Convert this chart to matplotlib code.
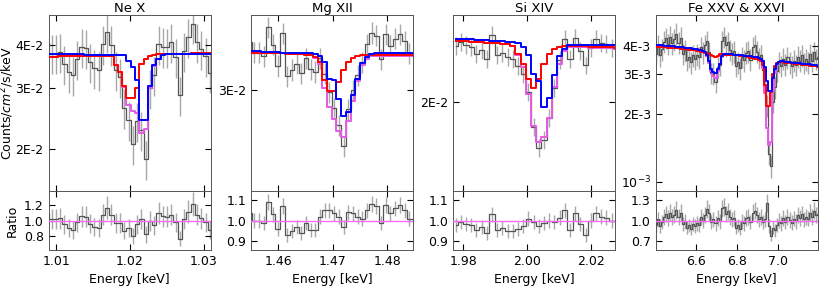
import numpy as np
import matplotlib
matplotlib.use("Agg")
import matplotlib.pyplot as plt
from matplotlib.ticker import FixedLocator, FixedFormatter, NullLocator

plt.rcParams['font.family'] = ['DejaVu Sans']
plt.rcParams['font.size'] = 9

titles = ['Ne X', 'Mg XII', 'Si XIV', 'Fe XXV & XXVI']

# ---------------- Ne X ----------------
ne_first, ne_width, ne_n = 1.008805, 0.000579, 39
ne_ratio = [1.10, 1.02, 1.02, 1.03, 0.95, 0.90, 0.88, 0.98, 1.06, 1.05,
            0.96, 0.92, 0.91, 1.08, 1.17, 1.08, 0.97, 0.97, 0.87, 0.90,
            0.80, 0.95, 1.02, 0.82, 1.00, 0.94, 1.10, 1.06, 1.05, 1.08,
            0.98, 0.76, 1.02, 1.12, 1.22, 1.08, 1.03, 0.98, 0.88]
ne_total = [0.0371, 0.0371, 0.0371, 0.0372, 0.0372, 0.0372, 0.0372, 0.0372, 0.0373, 0.0373,
            0.0373, 0.0373, 0.0373, 0.0373, 0.0373, 0.0372, 0.0350, 0.0334, 0.0303, 0.0269,
            0.0258, 0.0254, 0.0222, 0.0228, 0.0301, 0.0349, 0.0366, 0.0374, 0.0377, 0.0378,
            0.0378, 0.0378, 0.0378, 0.0378, 0.0379, 0.0379, 0.0379, 0.0379, 0.0379]
ne_red = [0.0371, 0.0371, 0.0371, 0.0372, 0.0372, 0.0372, 0.0372, 0.0372, 0.0373, 0.0373,
          0.0373, 0.0373, 0.0373, 0.0373, 0.0373, 0.0372, 0.0350, 0.0334, 0.0305, 0.0281,
          0.0281, 0.0300, 0.0352, 0.0364, 0.0372, 0.0376, 0.0377, 0.0377, 0.0377, 0.0378,
          0.0378, 0.0378, 0.0378, 0.0378, 0.0379, 0.0379, 0.0379, 0.0379, 0.0379]
ne_blue = [0.0377, 0.0377, 0.0377, 0.0377, 0.0377, 0.0377, 0.0377, 0.0377, 0.0377, 0.0376,
           0.0376, 0.0376, 0.0376, 0.0376, 0.0376, 0.0376, 0.0376, 0.0376, 0.0374, 0.0360,
           0.0345, 0.0318, 0.0242, 0.0242, 0.0305, 0.0350, 0.0366, 0.0374, 0.0377, 0.0378,
           0.0378, 0.0378, 0.0378, 0.0378, 0.0378, 0.0378, 0.0378, 0.0378, 0.0378]
ne_relerr = 0.13

# ---------------- Mg XII ----------------
mg_first, mg_width, mg_n = 1.454694, 0.000864, 36
mg_ratio = [1.035, 1.00, 1.00, 0.99, 1.09, 1.03, 0.96, 1.07, 0.93, 0.95,
            0.97, 0.94, 0.99, 0.955, 0.955, 1.02, 1.05, 1.05, 1.035, 1.02,
            0.97, 1.04, 1.035, 1.02, 1.01, 1.05, 1.08, 1.07, 0.99, 1.075,
            1.035, 1.06, 1.075, 1.05, 1.01, 1.01]
mg_total = [0.0340, 0.0340, 0.0340, 0.0339, 0.0339, 0.0339, 0.0339, 0.0339, 0.0338, 0.0338,
            0.0338, 0.0338, 0.0337, 0.0337, 0.0334, 0.0327, 0.0302, 0.0284, 0.0273, 0.0262,
            0.0257, 0.0271, 0.0290, 0.0309, 0.0326, 0.0333, 0.0336, 0.0336, 0.0336, 0.0336,
            0.0336, 0.0336, 0.0336, 0.0336, 0.0336, 0.0336]
mg_red = [0.0340, 0.0340, 0.0340, 0.0339, 0.0339, 0.0339, 0.0339, 0.0339, 0.0338, 0.0338,
          0.0338, 0.0338, 0.0337, 0.0337, 0.0335, 0.0330, 0.0310, 0.0299, 0.0299, 0.0308,
          0.0321, 0.0330, 0.0334, 0.0336, 0.0337, 0.0337, 0.0337, 0.0337, 0.0337, 0.0337,
          0.0337, 0.0337, 0.0337, 0.0337, 0.0337, 0.0337]
mg_blue = [0.0342, 0.0342, 0.0342, 0.0341, 0.0341, 0.0341, 0.0341, 0.0340, 0.0340, 0.0340,
           0.0340, 0.0339, 0.0339, 0.0339, 0.0338, 0.0336, 0.0330, 0.0312, 0.0310, 0.0292,
           0.0276, 0.0279, 0.0295, 0.0312, 0.0328, 0.0335, 0.0338, 0.0339, 0.0339, 0.0339,
           0.0339, 0.0339, 0.0339, 0.0339, 0.0339, 0.0339]
mg_relerr = 0.035

# ---------------- Si XIV ----------------
si_first, si_width, si_n = 1.977546, 0.001632, 32
si_ratio = [0.98, 0.995, 0.985, 0.98, 0.955, 0.97, 0.94, 1.03, 0.955, 0.965,
            0.95, 0.95, 0.96, 0.975, 1.01, 0.995, 0.975, 0.99, 1.00, 0.995,
            1.015, 1.05, 0.955, 1.035, 0.985, 0.93, 1.00, 1.035, 1.02, 1.015,
            1.00, 1.00]
si_total = [0.0254, 0.0254, 0.0254, 0.0253, 0.0253, 0.0253, 0.0252, 0.0252, 0.0252, 0.0251,
            0.0251, 0.0249, 0.0240, 0.0229, 0.0206, 0.0182, 0.0171, 0.0174, 0.0188, 0.0212,
            0.0232, 0.0244, 0.0248, 0.0248, 0.0248, 0.0248, 0.0247, 0.0247, 0.0247, 0.0247,
            0.0247, 0.0246]
si_red = [0.0254, 0.0254, 0.0254, 0.0253, 0.0253, 0.0253, 0.0252, 0.0252, 0.0252, 0.0251,
          0.0251, 0.0249, 0.0241, 0.0232, 0.0219, 0.0211, 0.0219, 0.0232, 0.0241, 0.0246,
          0.0248, 0.0249, 0.0249, 0.0249, 0.0249, 0.0249, 0.0248, 0.0248, 0.0248, 0.0248,
          0.0248, 0.0247]
si_blue = [0.0256, 0.0256, 0.0256, 0.0256, 0.0255, 0.0255, 0.0255, 0.0254, 0.0254, 0.0254,
           0.0253, 0.0253, 0.0252, 0.0248, 0.0240, 0.0223, 0.0217, 0.0196, 0.0203, 0.0222,
           0.0239, 0.0246, 0.0250, 0.0250, 0.0250, 0.0250, 0.0250, 0.0250, 0.0250, 0.0250,
           0.0250, 0.0250]
si_relerr = 0.035

# ---------------- Fe XXV & XXVI ----------------
fe_first, fe_width, fe_n = 6.405, 0.01, 80
fe_ratio = [0.93, 1.02, 0.92, 0.98, 1.06, 1.10, 1.04, 1.12, 1.05, 1.09,
            1.16, 1.06, 1.12, 0.95, 0.99, 0.90, 0.93, 0.88, 0.95, 0.92,
            0.96, 0.94, 1.05, 1.00, 1.08, 1.17, 1.12, 0.98, 1.02, 0.96,
            1.04, 0.99, 1.18, 1.20, 1.10, 1.14, 1.05, 1.02, 1.04, 0.90,
            0.93, 0.88, 0.99, 0.96, 1.04, 1.06, 0.98, 1.12, 1.15, 1.08,
            1.02, 1.06, 0.98, 1.02, 1.26, 0.92, 0.78, 0.90, 0.86, 0.94,
            1.00, 0.96, 1.04, 0.98, 1.06, 1.01, 0.97, 1.03, 0.99, 1.08,
            1.04, 1.10, 1.02, 1.06, 1.03, 1.12, 1.05, 1.15, 1.08, 1.10]
fe_total = [0.00397, 0.00397, 0.00396, 0.00396, 0.00395, 0.00395, 0.00394, 0.00394, 0.00393, 0.00393,
            0.00392, 0.00391, 0.00390, 0.00389, 0.00388, 0.00387, 0.00386, 0.00385, 0.00384, 0.00383,
            0.00382, 0.00380, 0.00378, 0.00376, 0.00374, 0.00360, 0.00337, 0.00311, 0.00296, 0.00290,
            0.00311, 0.00333, 0.00358, 0.00366, 0.00367, 0.00366, 0.00366, 0.00365, 0.00365, 0.00364,
            0.00364, 0.00363, 0.00362, 0.00361, 0.00360, 0.00358, 0.00356, 0.00354, 0.00352, 0.00350,
            0.00348, 0.00344, 0.00321, 0.00248, 0.00173, 0.00145, 0.00150, 0.00252, 0.00305, 0.00331,
            0.00340, 0.00340, 0.00339, 0.00338, 0.00337, 0.00336, 0.00336, 0.00335, 0.00334, 0.00333,
            0.00332, 0.00331, 0.00331, 0.00330, 0.00329, 0.00328, 0.00327, 0.00326, 0.00325, 0.00324]
fe_red = [0.00397, 0.00397, 0.00396, 0.00396, 0.00395, 0.00395, 0.00394, 0.00394, 0.00393, 0.00393,
          0.00392, 0.00391, 0.00390, 0.00389, 0.00388, 0.00387, 0.00386, 0.00385, 0.00384, 0.00383,
          0.00382, 0.00380, 0.00378, 0.00376, 0.00374, 0.00372, 0.00370, 0.00366, 0.00360, 0.00358,
          0.00362, 0.00368, 0.00368, 0.00367, 0.00367, 0.00366, 0.00366, 0.00365, 0.00365, 0.00364,
          0.00364, 0.00363, 0.00362, 0.00361, 0.00360, 0.00358, 0.00356, 0.00354, 0.00352, 0.00350,
          0.00348, 0.00344, 0.00330, 0.00268, 0.00216, 0.00216, 0.00250, 0.00300, 0.00328, 0.00338,
          0.00340, 0.00340, 0.00339, 0.00338, 0.00337, 0.00336, 0.00336, 0.00335, 0.00334, 0.00333,
          0.00332, 0.00331, 0.00331, 0.00330, 0.00329, 0.00328, 0.00327, 0.00326, 0.00325, 0.00324]
fe_blue = [0.00404, 0.00404, 0.00403, 0.00403, 0.00402, 0.00402, 0.00401, 0.00400, 0.00400, 0.00399,
           0.00398, 0.00397, 0.00396, 0.00395, 0.00394, 0.00393, 0.00392, 0.00391, 0.00389, 0.00388,
           0.00387, 0.00385, 0.00383, 0.00381, 0.00378, 0.00366, 0.00342, 0.00318, 0.00306, 0.00304,
           0.00318, 0.00335, 0.00360, 0.00368, 0.00370, 0.00369, 0.00368, 0.00368, 0.00367, 0.00366,
           0.00366, 0.00365, 0.00364, 0.00363, 0.00362, 0.00361, 0.00360, 0.00359, 0.00358, 0.00357,
           0.00355, 0.00350, 0.00342, 0.00324, 0.00280, 0.00253, 0.00253, 0.00290, 0.00318, 0.00334,
           0.00341, 0.00343, 0.00342, 0.00341, 0.00340, 0.00339, 0.00338, 0.00338, 0.00337, 0.00336,
           0.00336, 0.00335, 0.00334, 0.00333, 0.00332, 0.00332, 0.00331, 0.00330, 0.00329, 0.00328]
fe_relerr = 0.11

# ---------------- axes settings ----------------
xlims = [(1.00896, 1.0309), (1.45494, 1.48476), (1.97684, 2.02767), (6.404, 7.192)]
xticks = [[1.01, 1.02, 1.03], [1.46, 1.47, 1.48], [1.98, 2.00, 2.02], [6.6, 6.8, 7.0]]
xticklabels = [['1.01', '1.02', '1.03'], ['1.46', '1.47', '1.48'],
               ['1.98', '2.00', '2.02'], ['6.6', '6.8', '7.0']]
ylims = [(0.0151, 0.049), (0.0215, 0.0385), (0.0141, 0.0281), (0.00091, 0.0055)]
yticks = [[0.02, 0.03, 0.04], [0.03], [0.02], [0.001, 0.002, 0.003, 0.004]]
yticklabels = [['2E-2', '3E-2', '4E-2'], ['3E-2'], ['2E-2'],
               [r'$\mathdefault{10^{-3}}$', '2E-3', '3E-3', '4E-3']]
rlims = [(0.615, 1.39), (0.859, 1.143), (0.859, 1.143), (0.569, 1.437)]
rticks = [[0.8, 1.0, 1.2], [0.9, 1.0, 1.1], [0.9, 1.0, 1.1], [0.7, 1.0, 1.3]]
rticklabels = [['0.8', '1.0', '1.2'], ['0.9', '1.0', '1.1'],
               ['0.9', '1.0', '1.1'], ['0.7', '1.0', '1.3']]

panels = [
    dict(grid=(ne_first, ne_width, ne_n), ratio=ne_ratio, total=ne_total, red=ne_red, blue=ne_blue, relerr=ne_relerr),
    dict(grid=(mg_first, mg_width, mg_n), ratio=mg_ratio, total=mg_total, red=mg_red, blue=mg_blue, relerr=mg_relerr),
    dict(grid=(si_first, si_width, si_n), ratio=si_ratio, total=si_total, red=si_red, blue=si_blue, relerr=si_relerr),
    dict(grid=(fe_first, fe_width, fe_n), ratio=fe_ratio, total=fe_total, red=fe_red, blue=fe_blue, relerr=fe_relerr),
]

W, H = 822.0, 289.0
lefts = [48.5, 251.0, 453.3, 655.7]
pw = 162.0
top_t, top_b, rat_b = 15.0, 191.0, 250.0

data_col = '#555555'
err_col = '#a8a8a8'
mag_col = '#e55ae5'
ratio_line_col = '#ff6bff'
spine_col = '#555555'

fig = plt.figure(figsize=(W / 100, H / 100), dpi=100)

for i, p in enumerate(panels):
    first, width, n = p['grid']
    energy = first + width * np.arange(n)
    ratio = np.array(p['ratio'])
    total = np.array(p['total'])
    counts = ratio * total
    cerr = p['relerr'] * counts
    rerr = p['relerr'] * ratio

    l = lefts[i] / W
    w = pw / W
    ax = fig.add_axes([l, 1 - top_b / H, w, (top_b - top_t) / H])
    axr = fig.add_axes([l, 1 - rat_b / H, w, (rat_b - top_b) / H])

    # top panel
    ax.vlines(energy, counts - cerr, counts + cerr, color=err_col, lw=1.0, zorder=1)
    ax.step(energy, counts, where='mid', color=data_col, lw=0.9, zorder=2)
    ax.step(energy, total, where='mid', color=mag_col, lw=1.4, zorder=3)
    ax.step(energy, p['red'], where='mid', color='red', lw=1.4, zorder=4)
    ax.step(energy, p['blue'], where='mid', color='blue', lw=1.4, zorder=5)
    ax.set_yscale('log')
    ax.set_xlim(*xlims[i])
    ax.set_ylim(*ylims[i])
    ax.yaxis.set_major_locator(FixedLocator(yticks[i]))
    ax.yaxis.set_major_formatter(FixedFormatter(yticklabels[i]))
    ax.yaxis.set_minor_locator(NullLocator())
    ax.xaxis.set_major_locator(FixedLocator(xticks[i]))
    ax.xaxis.set_minor_locator(NullLocator())
    ax.tick_params(which='both', direction='in', top=True, right=True,
                   length=4, width=0.8, labelsize=9, labelbottom=False)
    ax.set_title(titles[i], fontsize=9.5, pad=2)

    # ratio panel
    axr.vlines(energy, ratio - rerr, ratio + rerr, color=err_col, lw=1.0, zorder=1)
    axr.step(energy, ratio, where='mid', color=data_col, lw=0.9, zorder=2)
    axr.axhline(1.0, color=ratio_line_col, lw=1.0, zorder=3)
    axr.set_xlim(*xlims[i])
    axr.set_ylim(*rlims[i])
    axr.xaxis.set_major_locator(FixedLocator(xticks[i]))
    axr.xaxis.set_major_formatter(FixedFormatter(xticklabels[i]))
    axr.xaxis.set_minor_locator(NullLocator())
    axr.yaxis.set_major_locator(FixedLocator(rticks[i]))
    axr.yaxis.set_major_formatter(FixedFormatter(rticklabels[i]))
    axr.yaxis.set_minor_locator(NullLocator())
    axr.tick_params(which='both', direction='in', top=True, right=True,
                    length=4, width=0.8, labelsize=9)
    axr.set_xlabel('Energy [keV]', fontsize=9)

    for a in (ax, axr):
        for s in a.spines.values():
            s.set_linewidth(0.7)
            s.set_color(spine_col)

    if i == 0:
        ax.set_ylabel('Counts/$cm^2$/s/keV', fontsize=9)
        ax.yaxis.set_label_coords((16.0 - lefts[0]) / pw, 0.5)
        axr.set_ylabel('Ratio', fontsize=9)
        axr.yaxis.set_label_coords((18.5 - lefts[0]) / pw, 0.5)

fig.savefig('out.png', dpi=100)
